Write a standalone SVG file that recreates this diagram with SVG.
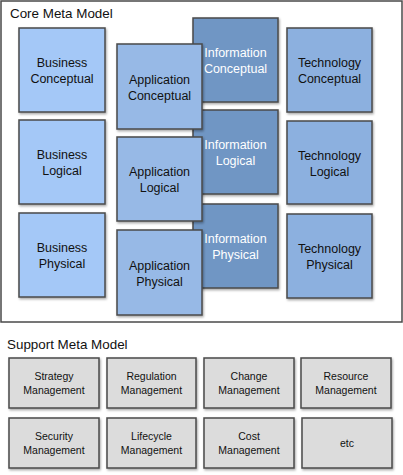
<svg xmlns="http://www.w3.org/2000/svg" width="403" height="475" viewBox="0 0 403 475">
<defs>
<filter id="sh" x="-10%" y="-10%" width="130%" height="130%">
<feDropShadow dx="1" dy="1.5" stdDeviation="1.2" flood-color="#000" flood-opacity="0.35"/>
</filter>
</defs>
<style>
.frame{fill:#fff;stroke:#4a4a4a;stroke-width:1.5}
.box{stroke:#4a4a4a;stroke-width:1.5;filter:url(#sh)}
.bus{fill:#a4c8f7}
.app{fill:#97b9e6}
.inf{fill:#7096c4}
.tec{fill:#8cb0df}
.sup{fill:#dcdcdc}
.t{font-family:"Liberation Sans",Arial,sans-serif;font-size:12.5px;fill:#111;text-anchor:middle}
.w{fill:#fff}
.s{font-family:"Liberation Sans",Arial,sans-serif;font-size:10.5px;fill:#111;text-anchor:middle}
.h{font-family:"Liberation Sans",Arial,sans-serif;font-size:13.4px;fill:#111}
</style>
<rect class="frame" x="1" y="1" width="401" height="321"/>
<text class="h" x="10" y="18">Core Meta Model</text>
<text class="h" x="7" y="349">Support Meta Model</text>
<g id="connectors"/>
<g id="business-conceptual"><rect class="box bus" x="19" y="28" width="86" height="84"/><text class="t" x="62" y="67">Business</text><text class="t" x="62" y="83">Conceptual</text></g>
<g id="business-logical"><rect class="box bus" x="19" y="120" width="86" height="84"/><text class="t" x="62" y="159">Business</text><text class="t" x="62" y="175">Logical</text></g>
<g id="business-physical"><rect class="box bus" x="19" y="213" width="86" height="84"/><text class="t" x="62" y="252">Business</text><text class="t" x="62" y="268">Physical</text></g>
<g id="information-conceptual"><rect class="box inf" x="193" y="18" width="85" height="84"/><text class="t w" x="235.5" y="57">Information</text><text class="t w" x="235.5" y="73">Conceptual</text></g>
<g id="information-logical"><rect class="box inf" x="193" y="110" width="85" height="84"/><text class="t w" x="235.5" y="149">Information</text><text class="t w" x="235.5" y="165">Logical</text></g>
<g id="information-physical"><rect class="box inf" x="193" y="204" width="85" height="84"/><text class="t w" x="235.5" y="243">Information</text><text class="t w" x="235.5" y="259">Physical</text></g>
<g id="application-conceptual"><rect class="box app" x="117" y="44" width="85" height="85"/><text class="t" x="159.5" y="84">Application</text><text class="t" x="159.5" y="100">Conceptual</text></g>
<g id="application-logical"><rect class="box app" x="117" y="137" width="85" height="84"/><text class="t" x="159.5" y="176">Application</text><text class="t" x="159.5" y="192">Logical</text></g>
<g id="application-physical"><rect class="box app" x="117" y="230" width="85" height="85"/><text class="t" x="159.5" y="270">Application</text><text class="t" x="159.5" y="286">Physical</text></g>
<g id="technology-conceptual"><rect class="box tec" x="287" y="28" width="85" height="84"/><text class="t" x="329.5" y="67">Technology</text><text class="t" x="329.5" y="83">Conceptual</text></g>
<g id="technology-logical"><rect class="box tec" x="287" y="121" width="85" height="83"/><text class="t" x="329.5" y="160">Technology</text><text class="t" x="329.5" y="176">Logical</text></g>
<g id="technology-physical"><rect class="box tec" x="287" y="214" width="85" height="84"/><text class="t" x="329.5" y="253">Technology</text><text class="t" x="329.5" y="269">Physical</text></g>
<g id="strategy-management"><rect class="box sup" x="9" y="358" width="90" height="50"/><text class="s" x="54" y="380">Strategy</text><text class="s" x="54" y="394">Management</text></g>
<g id="regulation-management"><rect class="box sup" x="107" y="358" width="89" height="50"/><text class="s" x="151.5" y="380">Regulation</text><text class="s" x="151.5" y="394">Management</text></g>
<g id="change-management"><rect class="box sup" x="204" y="358" width="90" height="50"/><text class="s" x="249" y="380">Change</text><text class="s" x="249" y="394">Management</text></g>
<g id="resource-management"><rect class="box sup" x="301" y="358" width="90" height="50"/><text class="s" x="346" y="380">Resource</text><text class="s" x="346" y="394">Management</text></g>
<g id="security-management"><rect class="box sup" x="9" y="418" width="90" height="50"/><text class="s" x="54" y="440">Security</text><text class="s" x="54" y="454">Management</text></g>
<g id="lifecycle-management"><rect class="box sup" x="107" y="418" width="89" height="50"/><text class="s" x="151.5" y="440">Lifecycle</text><text class="s" x="151.5" y="454">Management</text></g>
<g id="cost-management"><rect class="box sup" x="204" y="418" width="90" height="50"/><text class="s" x="249" y="440">Cost</text><text class="s" x="249" y="454">Management</text></g>
<g id="etc"><rect class="box sup" x="302" y="418" width="90" height="50"/><text class="s" x="347" y="447">etc</text></g>
</svg>
